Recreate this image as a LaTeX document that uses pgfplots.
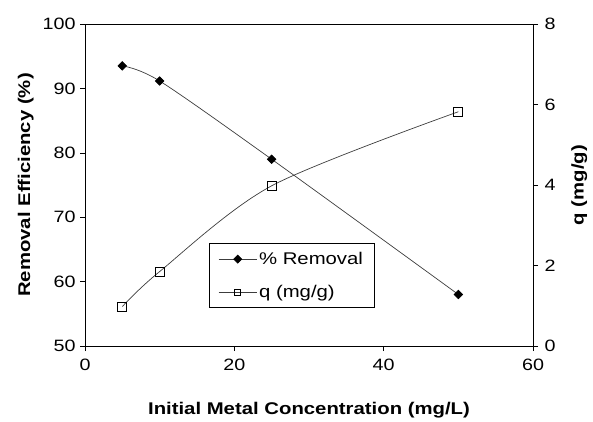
\documentclass[border=0pt]{standalone}
\usepackage{fontspec}
\setmainfont{Liberation Sans}[FakeStretch=1.2]
\usepackage{pgfplots}
\pgfplotsset{compat=1.18}
\definecolor{ln}{RGB}{60,60,60}
\begin{document}
\begin{tikzpicture}[x=1bp,y=1bp]
\pgfplotsset{
 longleg/.style={legend image code/.code={\draw[mark repeat=2,mark phase=2,##1] plot coordinates {(0bp,0bp) (19bp,0bp) (38bp,0bp)};}},
 every axis/.append style={
  scale only axis, width=448bp, height=322bp,
  at={(0,0)}, anchor=south west,
  tick align=outside, major tick length=5bp,
  tick style={black, line width=0.6pt},
  axis line style={black, line width=0.8pt},
  /pgf/number format/assume math mode=true,
  tick label style={font=\fontsize{16.5}{18}\selectfont},
  label style={font=\bfseries\fontsize{17}{19}\selectfont},
}}
\begin{axis}[
  xmin=0, xmax=60, ymin=50, ymax=100,
  xtick={0,20,40,60}, ytick={50,60,...,100},
  xtick pos=bottom, ytick pos=left,
  xticklabel style={yshift=-5bp},
  yticklabel style={xshift=-1bp},
  xlabel={Initial Metal Concentration (mg/L)},
  ylabel={Removal Efficiency (\%)},
  xlabel style={yshift=-24bp},
  ylabel style={yshift=2bp},
]
\addplot[ln, line width=0.7pt, smooth, tension=0.5, mark=square*, mark size=3bp, mark options={black, solid, rotate=45}]
coordinates {(5,93.5) (10,91.15) (25,79.0) (50,58.0)};
\end{axis}
\begin{axis}[
  xmin=0, xmax=60, ymin=0, ymax=8,
  axis x line=none, axis y line*=right,
  ytick={0,2,...,8},
  yticklabel style={xshift=3bp},
  ylabel={q (mg/g)},
  ylabel style={yshift=-9bp},
  legend style={at={(0.277,0.32)}, anchor=north west, draw=black, line width=0.6pt,
    font=\fontsize{17}{19}\selectfont, row sep=15bp, inner xsep=9bp, inner ysep=7bp},
  legend cell align=left,
]
\addplot[ln, line width=0.7pt, smooth, tension=0.5, mark=square, mark size=4.5bp, mark options={black, solid}, forget plot]
coordinates {(5,0.98) (10,1.85) (25,3.98) (50,5.82)};
\addlegendimage{ln, line width=0.7pt, longleg, mark=square*, mark size=2.9bp, mark options={black, solid, rotate=45}}
\addlegendentry{\% Removal}
\addlegendimage{ln, line width=0.7pt, longleg, mark=square, mark size=3bp, mark options={black, solid}}
\addlegendentry{q (mg/g)}
\end{axis}
\path[use as bounding box] (-85bp,-72bp) rectangle (508bp,346bp);
\end{tikzpicture}
\end{document}
